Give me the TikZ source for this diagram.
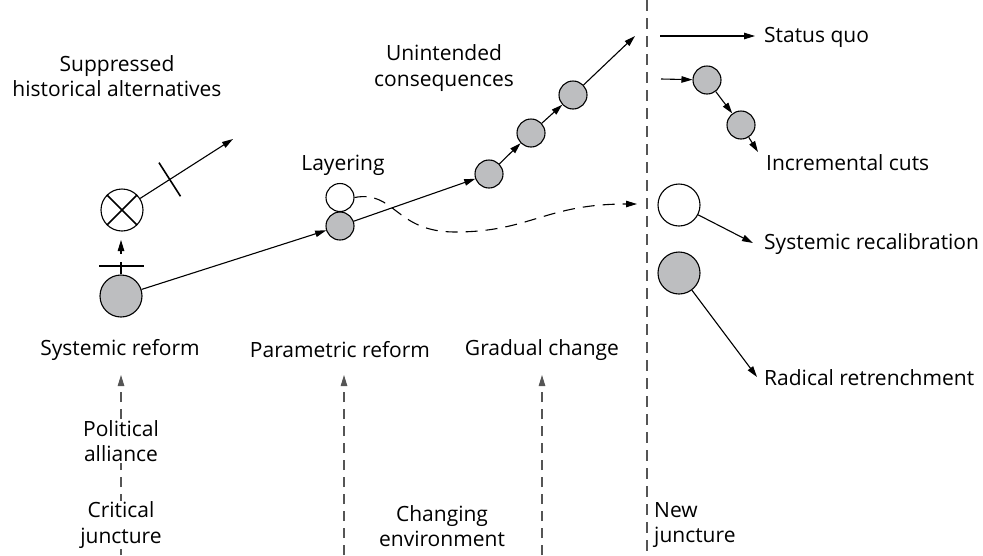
\documentclass[tikz,border=0pt]{standalone}
\usepackage{fontspec}
\setmainfont{Open Sans}
\usetikzlibrary{arrows.meta,calc}
\definecolor{cgray}{HTML}{BDBEC0}
\definecolor{dgray}{HTML}{555555}
\tikzset{
  arr/.style={line width=1.1pt,-{Triangle[length=11pt,width=6.5pt]}},
  dasharr/.style={arr,dgray,dash pattern=on 10pt off 7pt},
  sdot/.style={circle,draw,line width=1.1pt,fill=cgray,minimum size=28pt,inner sep=0pt},
  swhite/.style={sdot,fill=white},
  bdot/.style={sdot,minimum size=42pt},
  bwhite/.style={bdot,fill=white},
  lbl/.style={font=\fontsize{21}{25.5}\selectfont,inner sep=1pt,align=center},
  wlbl/.style={lbl,fill=white},
}
\begin{document}
\begin{tikzpicture}[x=1pt,y=-1pt]
\useasboundingbox (0,0) rectangle (983,555);
% left column
\node[bdot] (sr) at (121,296) {};
\node[bwhite] (xc) at (122,210) {};
\draw[line width=1.6pt] (xc.45) -- (xc.225) (xc.135) -- (xc.315);
\coordinate (alt) at (233,139);
\draw[arr] (xc) -- (alt);
\coordinate (tk) at ($(xc)!0.43!(alt)$);
\draw[line width=1.6pt] ($(tk)!20pt!90:(alt)$) -- ($(tk)!20pt!-90:(alt)$);
\coordinate (stubtop) at (121,262);
\coordinate (barl) at (99,266);
\coordinate (barr) at (144,266);
\draw[line width=1.1pt] (sr.north) -- (stubtop);
\draw[line width=1.6pt] (barl) -- (barr);
\coordinate (ahs) at (121,254);
\coordinate (ahe) at (121,240);
\draw[arr] (ahs) -- (ahe);
% layering
\node[sdot] (pr) at (340,226) {};
\node[swhite] (ly) at (340,197.5) {};
\draw[arr] (sr) -- (pr);
% chain
\node[sdot] (c1) at (489,174) {};
\node[sdot] (c2) at (531,133) {};
\node[sdot] (c3) at (573,95) {};
\coordinate (uq) at (635,36);
\draw[arr] (pr) -- (c1);
\draw[arr] (c1) -- (c2);
\draw[arr] (c2) -- (c3);
\draw[arr] (c3) -- (uq);
% dashed curve
\coordinate (ce) at (637,204);
\draw[arr,dash pattern=on 12pt off 8pt] (ly.east) .. controls (395,190) and (395,232) .. (455,232) .. controls (530,232) and (545,204) .. (ce);
% new juncture line
\coordinate (nt) at (647,0);
\coordinate (nb) at (647,555);
\draw[dgray,line width=1.2pt,dash pattern=on 11pt off 7pt] (nt) -- (nb);
% right side
\coordinate (sqs) at (660,36);
\coordinate (sqe) at (755,36);
\draw[arr] (sqs) -- (sqe);
\node[lbl,anchor=west] (sq) at (763,37) {Status quo};
\coordinate (ics) at (661,79);
\node[sdot] (i1) at (707,80) {};
\node[sdot] (i2) at (741,125) {};
\coordinate (ice) at (758,152);
\draw[arr] (ics) -- (i1);
\draw[arr] (i1) -- (i2);
\draw[arr] (i2) -- (ice);
\node[lbl,anchor=west] (ic) at (765,163) {Incremental cuts};
\node[bwhite] (rw) at (679,205) {};
\coordinate (rwe) at (753,243);
\draw[arr] (rw) -- (rwe);
\node[lbl,anchor=west] (rc) at (763,244) {Systemic recalibration};
\node[bdot] (rg) at (679,273) {};
\coordinate (rge) at (757,377);
\draw[arr] (rg) -- (rge);
\node[lbl,anchor=west] (rr) at (763,378) {Radical retrenchment};
% top labels
\node[lbl] (sup) at (117,76) {Suppressed\\historical alternatives};
\node[lbl] (uc) at (444,68) {Unintended\\consequences};
\node[lbl] (lay) at (343,165) {Layering};
% middle labels
\node[lbl] (srl) at (120,350) {Systemic reform};
\node[lbl] (prl) at (340,350) {Parametric reform};
\node[lbl] (gcl) at (542,350) {Gradual change};
% bottom arrows
\coordinate (b1s) at (121,555);
\coordinate (b1e) at (121,375);
\coordinate (b2s) at (344,555);
\coordinate (b2e) at (344,375);
\coordinate (b3s) at (542,555);
\coordinate (b3e) at (542,375);
\draw[dasharr] (b1s) -- (b1e);
\draw[dasharr] (b2s) -- (b2e);
\draw[dasharr] (b3s) -- (b3e);
\node[wlbl] (pa) at (121,441) {Political\\alliance};
\node[wlbl] (cj) at (121,525) {Critical\\juncture};
\node[lbl] (ce2) at (442,526) {Changing\\environment};
\node[lbl,anchor=west,align=left] (nj) at (653,525) {New\\juncture};
\end{tikzpicture}
\end{document}
